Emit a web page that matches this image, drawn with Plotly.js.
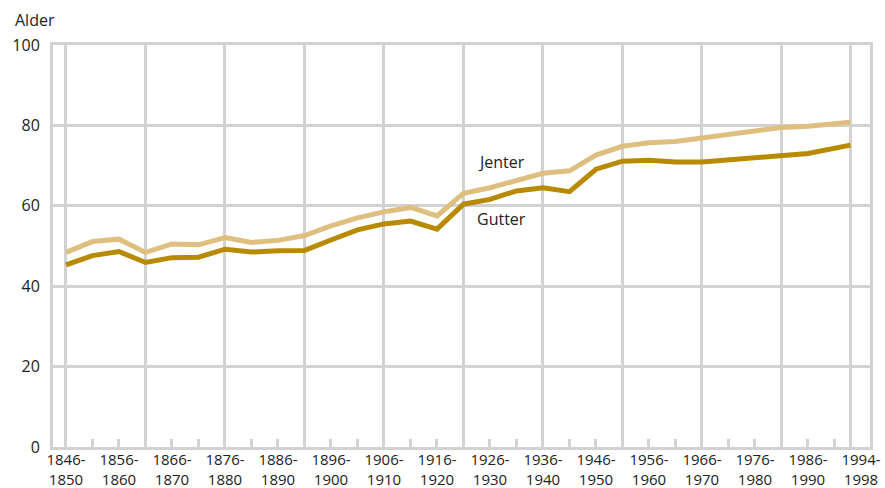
<!DOCTYPE html>
<html>
<head>
<meta charset="utf-8">
<script src="https://cdn.plot.ly/plotly-3.0.1.min.js"></script>
<style>html,body{margin:0;padding:0;background:#fff;}#chart{width:885px;height:488px;}</style>
</head>
<body>
<div id="chart"></div>
<script>
// Periods (5-year groups) and their mid-years
const periods = ['1846-1850','1851-1855','1856-1860','1861-1865','1866-1870','1871-1875','1876-1880','1881-1885','1886-1890','1891-1895','1896-1900','1901-1905','1906-1910','1911-1915','1916-1920','1921-1925','1926-1930','1931-1935','1936-1940','1941-1945','1946-1950','1951-1955','1956-1960','1961-1965','1966-1970','1971-1975','1976-1980','1981-1985','1986-1990','1994-1998'];
const midYears = [1848,1853,1858,1863,1868,1873,1878,1883,1888,1893,1898,1903,1908,1913,1918,1923,1928,1933,1938,1943,1948,1953,1958,1963,1968,1973,1978,1983,1988,1996];

// Life expectancy at birth (Alder)
const jenter = [48.4,51.1,51.7,48.4,50.5,50.3,52.1,50.9,51.4,52.6,55.0,57.0,58.5,59.6,57.5,63.1,64.5,66.4,68.1,68.7,72.6,74.8,75.7,76.0,76.9,77.9,78.9,79.5,79.8,80.8];
const gutter = [45.3,47.6,48.6,45.9,47.1,47.2,49.2,48.5,48.8,48.9,51.5,54.0,55.5,56.2,54.2,60.4,61.6,63.7,64.5,63.5,69.1,71.1,71.3,70.9,70.9,71.4,72.1,72.6,73.0,75.1];

// Axis tick labels
const labelYears = [1848,1858,1868,1878,1888,1898,1908,1918,1928,1938,1948,1958,1968,1978,1988,1998];
const labelText = ['1846-<br>1850','1856-<br>1860','1866-<br>1870','1876-<br>1880','1886-<br>1890','1896-<br>1900','1906-<br>1910','1916-<br>1920','1926-<br>1930','1936-<br>1940','1946-<br>1950','1956-<br>1960','1966-<br>1970','1976-<br>1980','1986-<br>1990','1994-<br>1998'];
const gridYears = [1848,1863,1878,1893,1908,1923,1938,1953,1968,1983,1996];
const minorYears = [];
for (let y = 1848; y <= 1993; y += 5) minorYears.push(y);
const yTicks = [0,20,40,60,80,100];

const gridCol = '#d2d2d2';
const font = {family: 'Open Sans, sans-serif', size: 16, color: '#222'};
const xFont = {family: 'Open Sans, sans-serif', size: 15, color: '#222'};
const xr = [1845.55, 1999.7];

const traces = [
  {x: midYears, y: jenter, text: periods, name: 'Jenter', type: 'scatter', mode: 'lines',
   line: {color: '#DFBF7F', width: 5}, xaxis: 'x', yaxis: 'y', hoverinfo: 'text+y'},
  {x: midYears, y: gutter, text: periods, name: 'Gutter', type: 'scatter', mode: 'lines',
   line: {color: '#B88A00', width: 5}, xaxis: 'x2', yaxis: 'y', hoverinfo: 'text+y'}
];

const layout = {
  width: 885, height: 488,
  margin: {l: 53, r: 15, t: 45, b: 41},
  paper_bgcolor: '#fff', plot_bgcolor: '#fff',
  showlegend: false,
  font: font,
  xaxis: {
    range: xr, tickmode: 'array', tickvals: labelYears, ticktext: labelText,
    showgrid: false, zeroline: false, ticks: '', showline: true, mirror: true,
    linecolor: gridCol, linewidth: 3, tickfont: xFont, ticklabelstandoff: -3
  },
  xaxis2: {
    range: xr, overlaying: 'x', tickmode: 'array', tickvals: gridYears,
    showticklabels: false, showgrid: true, gridcolor: gridCol, gridwidth: 3,
    zeroline: false, ticks: '', showline: false,
    minor: {tickmode: 'array', tickvals: minorYears, ticks: 'inside', ticklen: 8,
            tickwidth: 3, tickcolor: gridCol, showgrid: false}
  },
  yaxis: {
    range: [0, 100], tickmode: 'array', tickvals: yTicks,
    showgrid: true, gridcolor: gridCol, gridwidth: 3, zeroline: false,
    showline: true, mirror: true, linecolor: gridCol, linewidth: 3,
    ticks: 'outside', ticklen: 7, tickcolor: 'rgba(0,0,0,0)', tickfont: font
  },
  annotations: [
    {text: 'Alder', xref: 'paper', yref: 'paper', x: -0.049, y: 1.062, xanchor: 'left', yanchor: 'middle',
     showarrow: false, font: font},
    {text: 'Jenter', xref: 'paper', yref: 'paper', x: 0.549, y: 0.709, xanchor: 'center', yanchor: 'middle',
     showarrow: false, font: font},
    {text: 'Gutter', xref: 'paper', yref: 'paper', x: 0.549, y: 0.567, xanchor: 'center', yanchor: 'middle',
     showarrow: false, font: font}
  ]
};

Plotly.newPlot('chart', traces, layout, {displayModeBar: false, staticPlot: true});
</script>
</body>
</html>
